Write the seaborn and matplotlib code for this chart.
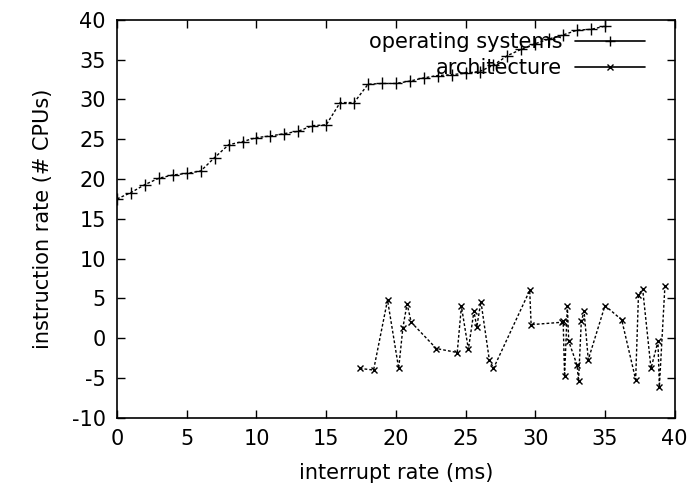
import matplotlib
matplotlib.use("Agg")
import matplotlib.pyplot as plt
import seaborn as sns
import pandas as pd
from matplotlib.lines import Line2D

# operating systems series
os_x = list(range(36))
os_y = [17.5, 18.3, 19.3, 20.1, 20.5, 20.7, 21.0, 22.7, 24.3, 24.7,
        25.2, 25.4, 25.7, 26.0, 26.7, 26.8, 29.6, 29.6, 31.9, 32.0,
        32.0, 32.3, 32.7, 33.0, 33.1, 33.3, 33.5, 34.3, 35.5, 36.3,
        37.0, 37.6, 38.1, 38.7, 38.8, 39.2]

# architecture series
arch_x = [17.4, 18.4, 19.4, 20.2, 20.5, 20.8, 21.1, 22.9, 24.4, 24.7,
          25.2, 25.6, 25.8, 26.1, 26.7, 27.0, 29.6, 29.7, 31.9, 32.0,
          32.1, 32.3, 32.4, 33.0, 33.1, 33.3, 33.5, 33.8, 35.0, 36.2,
          37.2, 37.4, 37.7, 38.3, 38.8, 38.9, 39.3]
arch_y = [-3.8, -4.0, 4.8, -3.8, 1.3, 4.3, 2.0, -1.3, -1.8, 4.0,
          -1.4, 3.4, 1.4, 4.6, -2.7, -3.8, 6.0, 1.7, 2.0, 2.1,
          -4.8, 4.0, -0.4, -3.4, -5.4, 2.1, 3.4, -2.7, 4.1, 2.3,
          -5.2, 5.4, 6.2, -3.8, -0.4, -6.1, 6.6]

df_os = pd.DataFrame({"x": os_x, "y": os_y})
df_arch = pd.DataFrame({"x": arch_x, "y": arch_y})

sns.set_style("ticks")
plt.rcParams['font.family'] = ['DejaVu Sans']
plt.rcParams['axes.unicode_minus'] = False
plt.rcParams['text.color'] = 'black'
plt.rcParams['axes.labelcolor'] = 'black'

fs = 15

fig = plt.figure(figsize=(6.97, 4.95), dpi=100)
ax = fig.add_axes([0.168, 0.156, 0.8, 0.804])

sns.lineplot(data=df_os, x="x", y="y", ax=ax, color="black", linewidth=1,
             linestyle=(0, (2, 1.5)), marker="+", markersize=8,
             markeredgewidth=1, markeredgecolor="black", sort=False)
sns.lineplot(data=df_arch, x="x", y="y", ax=ax, color="black", linewidth=1,
             linestyle=(0, (2, 1.5)), marker="x", markersize=5,
             markeredgewidth=1, markeredgecolor="black", sort=False)

ax.set_xlim(0, 40)
ax.set_ylim(-10, 40)
ax.set_xticks(range(0, 41, 5))
ax.set_yticks(range(-10, 41, 5))
ax.tick_params(direction="in", top=True, right=True, length=6, width=1,
               labelsize=fs, pad=8, colors="black", labelcolor="black")
for s in ax.spines.values():
    s.set_linewidth(1.2)
    s.set_color("black")

ax.set_xlabel("interrupt rate (ms)", fontsize=fs, labelpad=10, color="black")
ax.set_ylabel("instruction rate (# CPUs)", fontsize=fs, labelpad=14, color="black")

handles = [Line2D([], [], color="black", linewidth=1.2, marker="+", markersize=7),
           Line2D([], [], color="black", linewidth=1.2, marker="x", markersize=4)]
leg = ax.legend(handles, ["operating systems", "architecture"], loc="upper right",
                frameon=False, markerfirst=False, fontsize=fs, handlelength=3.4,
                handletextpad=0.6, labelspacing=0.3, borderaxespad=0.0,
                borderpad=0.2, bbox_to_anchor=(0.955, 0.98))
for t in leg.get_texts():
    t.set_color("black")

fig.savefig("out.png", dpi=100)
